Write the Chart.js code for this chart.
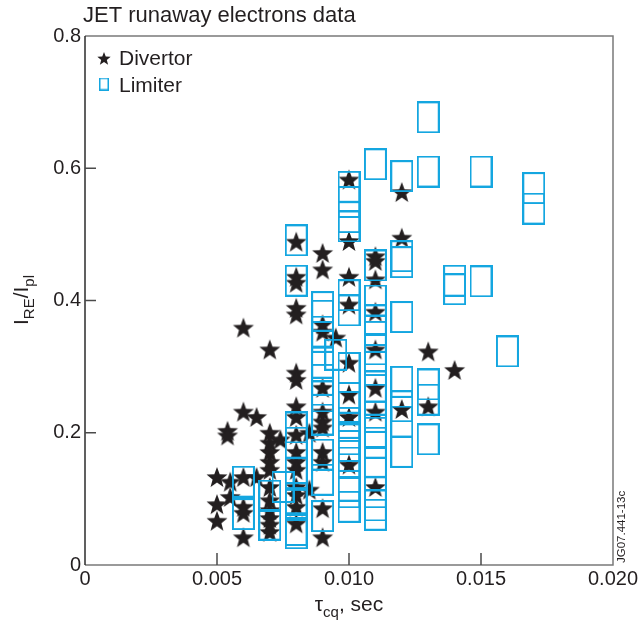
<!DOCTYPE html>
<html>
<head>
<meta charset="utf-8">
<script src="https://cdn.jsdelivr.net/npm/chart.js@4.4.0/dist/chart.umd.min.js"></script>
<style>
  html, body { margin: 0; padding: 0; background: #fff; }
</style>
</head>
<body>
<canvas id="grafico" width="641" height="623"></canvas>
<script>
// Divertor (estrelas): tau_cq por coluna e valores de I_RE/I_pl
const divertorTau = [0.005, 0.0054, 0.0055, 0.006, 0.0065, 0.007, 0.0074, 0.008, 0.0085, 0.009, 0.0095, 0.010, 0.011, 0.012, 0.013, 0.014];
const divertorRatio = [
  [0.133, 0.092, 0.067],
  [0.203, 0.196],
  [0.126, 0.103],
  [0.359, 0.232, 0.133, 0.088, 0.079, 0.042],
  [0.224, 0.133],
  [0.326, 0.2, 0.185, 0.171, 0.156, 0.144, 0.118, 0.098, 0.083, 0.071, 0.061, 0.05],
  [0.19],
  [0.489, 0.436, 0.427, 0.389, 0.379, 0.291, 0.28, 0.24, 0.224, 0.197, 0.171, 0.156, 0.144, 0.118, 0.106, 0.088, 0.063],
  [0.2, 0.114],
  [0.472, 0.447, 0.364, 0.353, 0.268, 0.232, 0.217, 0.208, 0.171, 0.156, 0.086, 0.042],
  [0.344],
  [0.583, 0.49, 0.436, 0.394, 0.306, 0.258, 0.224, 0.152],
  [0.467, 0.46, 0.432, 0.383, 0.326, 0.268, 0.232, 0.118],
  [0.564, 0.495, 0.236],
  [0.323, 0.24],
  [0.295]
];

// Limiter (retangulos)
const limiterTau = [0.006, 0.007, 0.0075, 0.008, 0.009, 0.0095, 0.010, 0.011, 0.012, 0.013, 0.014, 0.015, 0.016, 0.017];
const limiterRatio = [
  [0.126, 0.077],
  [0.105, 0.061],
  [0.118],
  [0.491, 0.43, 0.208, 0.185, 0.139, 0.101, 0.091, 0.053, 0.048],
  [0.39, 0.377, 0.353, 0.345, 0.306, 0.28, 0.255, 0.22, 0.167, 0.129, 0.074],
  [0.318],
  [0.572, 0.549, 0.526, 0.512, 0.408, 0.385, 0.298, 0.253, 0.239, 0.215, 0.19, 0.18, 0.165, 0.155, 0.12, 0.11, 0.088],
  [0.606, 0.453, 0.4, 0.37, 0.345, 0.326, 0.31, 0.27, 0.25, 0.224, 0.2, 0.185, 0.156, 0.11, 0.09, 0.076],
  [0.588, 0.467, 0.458, 0.375, 0.277, 0.24, 0.217, 0.171],
  [0.677, 0.595, 0.273, 0.25, 0.19],
  [0.43, 0.417],
  [0.595, 0.429],
  [0.323],
  [0.57, 0.539]
];

const xTicks = [0, 0.005, 0.010, 0.015, 0.020];
const yTicks = [0, 0.2, 0.4, 0.6, 0.8];

const PRETO = '#231f20';
const CIANO = '#14a6e0';
const FONTE = "'Liberation Sans', Arial, Helvetica, sans-serif";

function pontos(taus, valores) {
  return taus.flatMap((t, i) => valores[i].map(v => ({ x: t, y: v })));
}

function fazerEstrela(r, cor) {
  const s = Math.ceil(r * 2 + 2);
  const c = document.createElement('canvas');
  c.width = c.height = s;
  const g = c.getContext('2d');
  g.fillStyle = cor;
  g.beginPath();
  for (let i = 0; i < 10; i++) {
    const rr = i % 2 === 0 ? r : r * 0.42;
    const ang = -Math.PI / 2 + i * Math.PI / 5;
    g.lineTo(s / 2 + rr * Math.cos(ang), s / 2 + 1 + rr * Math.sin(ang));
  }
  g.closePath();
  g.fill();
  return c;
}

function fazerCaixa(w, h, lw, cor) {
  const c = document.createElement('canvas');
  c.width = w;
  c.height = h;
  const g = c.getContext('2d');
  g.strokeStyle = cor;
  g.lineWidth = lw;
  g.strokeRect(lw / 2, lw / 2, w - lw, h - lw);
  return c;
}

const estrela = fazerEstrela(11, PRETO);
const caixa = fazerCaixa(23, 32, 2, CIANO);
const estrelaPequena = fazerEstrela(7, PRETO);
const caixaPequena = fazerCaixa(10, 13, 1.5, CIANO);

// texto com subscritos
function textoRico(ctx, partes, x, y, tam, tamSub, centro) {
  const larg = partes.reduce((s, p) => {
    ctx.font = (p.sub ? tamSub : tam) + 'px ' + FONTE;
    return s + ctx.measureText(p.t).width;
  }, 0);
  let cx = centro ? x - larg / 2 : x;
  partes.forEach(p => {
    ctx.font = (p.sub ? tamSub : tam) + 'px ' + FONTE;
    ctx.fillText(p.t, cx, p.sub ? y + 6 : y);
    cx += ctx.measureText(p.t).width;
  });
}

const moldura = {
  id: 'moldura',
  beforeDatasetsDraw(chart) {
    const { ctx, chartArea: a, scales: { x, y } } = chart;
    ctx.save();
    ctx.lineWidth = 1.5;
    ctx.strokeStyle = '#7a7a7a';
    ctx.beginPath();
    ctx.moveTo(a.left, a.top);
    ctx.lineTo(a.right, a.top);
    ctx.lineTo(a.right, a.bottom);
    ctx.lineTo(a.left, a.bottom);
    ctx.stroke();
    ctx.strokeStyle = '#2b2b2b';
    ctx.beginPath();
    ctx.moveTo(a.left, a.top);
    ctx.lineTo(a.left, a.bottom);
    ctx.stroke();

    ctx.strokeStyle = '#4a4a4a';
    xTicks.slice(1, -1).forEach(v => {
      const px = x.getPixelForValue(v);
      ctx.beginPath();
      ctx.moveTo(px, a.bottom);
      ctx.lineTo(px, a.bottom - 12);
      ctx.stroke();
    });
    yTicks.slice(1, -1).forEach(v => {
      const py = y.getPixelForValue(v);
      ctx.beginPath();
      ctx.moveTo(a.left, py);
      ctx.lineTo(a.left + 11, py);
      ctx.stroke();
    });
    ctx.restore();
  },
  afterDraw(chart) {
    const { ctx, chartArea: a } = chart;
    ctx.save();
    ctx.fillStyle = PRETO;
    ctx.textBaseline = 'alphabetic';
    ctx.textAlign = 'left';

    ctx.font = '22px ' + FONTE;
    ctx.fillText('JET runaway electrons data', 83, 22);

    // legenda
    ctx.drawImage(estrelaPequena, 104 - estrelaPequena.width / 2, 58 - estrelaPequena.height / 2);
    ctx.drawImage(caixaPequena, 104 - caixaPequena.width / 2, 84 - caixaPequena.height / 2);
    ctx.font = '21px ' + FONTE;
    ctx.fillText('Divertor', 119, 65);
    ctx.fillText('Limiter', 119, 92);

    // titulo eixo x
    textoRico(ctx, [{ t: '\u03c4' }, { t: 'cq', sub: true }, { t: ', sec' }], (a.left + a.right) / 2, 611, 21, 15, true);

    // titulo eixo y
    ctx.save();
    ctx.translate(28, 300);
    ctx.rotate(-Math.PI / 2);
    textoRico(ctx, [{ t: 'I' }, { t: 'RE', sub: true }, { t: '/I' }, { t: 'pl', sub: true }], 0, 0, 21, 15, true);
    ctx.restore();

    // codigo da figura
    ctx.save();
    ctx.translate(625, 563);
    ctx.rotate(-Math.PI / 2);
    ctx.font = '11.5px ' + FONTE;
    ctx.fillText('JG07.441-13c', 0, 0);
    ctx.restore();
    ctx.restore();
  }
};

const ctx = document.getElementById('grafico').getContext('2d');

const chart = new Chart(ctx, {
  type: 'scatter',
  data: {
    datasets: [{
      label: 'Divertor',
      data: pontos(divertorTau, divertorRatio),
      pointStyle: estrela,
      pointRadius: 11,
      order: 2
    }, {
      label: 'Limiter',
      data: pontos(limiterTau, limiterRatio),
      pointStyle: caixa,
      pointRadius: 11,
      order: 1
    }]
  },
  options: {
    responsive: false,
    animation: false,
    devicePixelRatio: 1,
    layout: { padding: { top: 36, right: 28, left: 0, bottom: 0 } },
    scales: {
      x: {
        type: 'linear',
        min: 0,
        max: 0.02,
        afterBuildTicks: s => { s.ticks = xTicks.map(v => ({ value: v })); },
        afterFit: s => { s.height = 58; },
        grid: { display: false, drawTicks: false },
        border: { display: false },
        ticks: {
          color: PRETO,
          font: { family: FONTE, size: 20 },
          padding: 2,
          maxRotation: 0,
          callback: v => v === 0 ? '0' : v.toFixed(3)
        }
      },
      y: {
        type: 'linear',
        min: 0,
        max: 0.8,
        afterBuildTicks: s => { s.ticks = yTicks.map(v => ({ value: v })); },
        afterFit: s => { s.width = 85; },
        grid: { display: false, drawTicks: false },
        border: { display: false },
        ticks: {
          color: PRETO,
          font: { family: FONTE, size: 20 },
          padding: 4,
          callback: v => v === 0 ? '0' : v.toFixed(1)
        }
      }
    },
    plugins: {
      legend: { display: false },
      title: { display: false },
      tooltip: { enabled: false }
    }
  },
  plugins: [moldura]
});
</script>
</body>
</html>
